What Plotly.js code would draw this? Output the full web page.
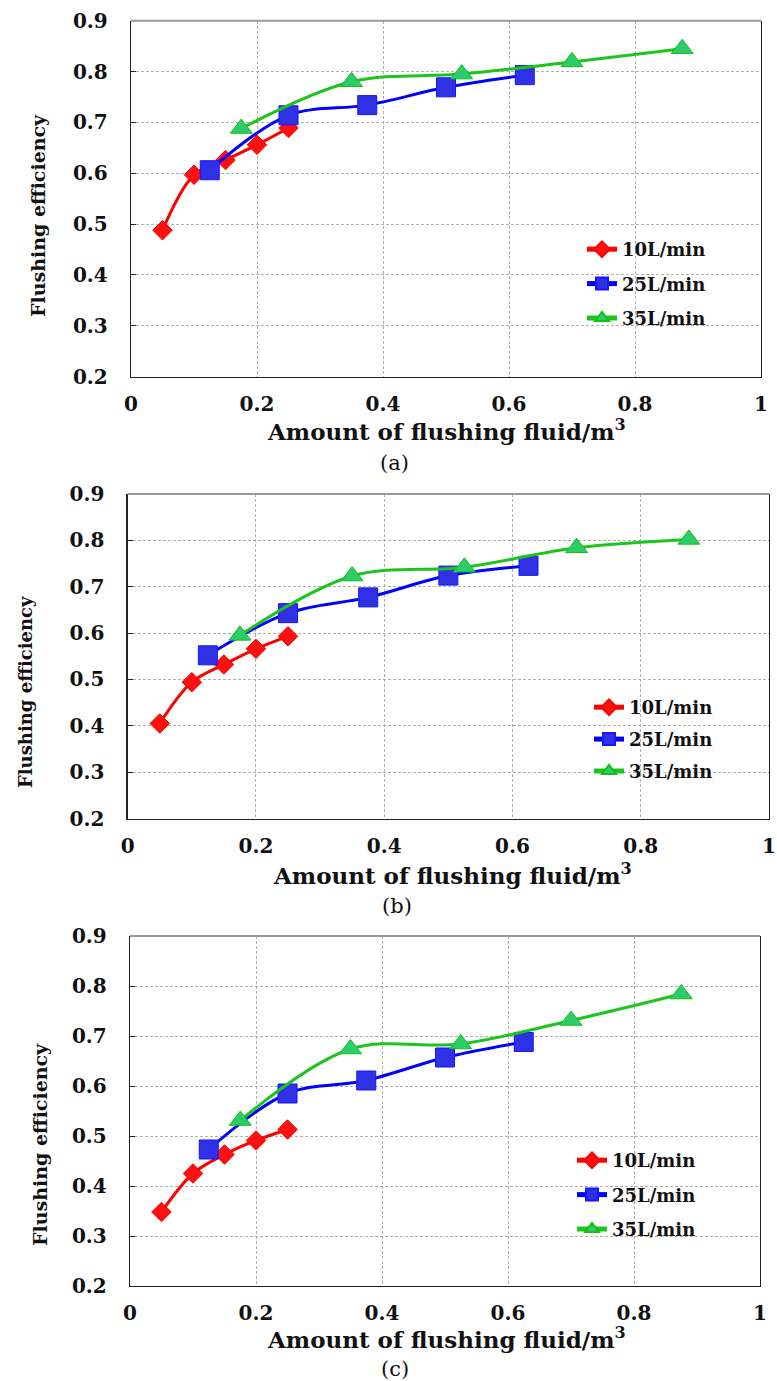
<!DOCTYPE html>
<html>
<head>
<meta charset="utf-8">
<script src="https://cdn.plot.ly/plotly-3.0.1.min.js"></script>
<style>html,body{margin:0;padding:0;background:#fff;}#chart{width:777px;height:1381px;}</style>
</head>
<body>
<div id="chart"></div>
<script>
// ---------- data ----------
const seriesNames = ["10L/min", "25L/min", "35L/min"];
const x10 = [0.05, 0.10, 0.15, 0.20, 0.25];
const x25 = [0.125, 0.25, 0.375, 0.50, 0.625];
const x35 = [0.175, 0.35, 0.525, 0.70, 0.875];

// panel (a)
const a10 = [0.488, 0.597, 0.626, 0.656, 0.689];
const a25 = [0.606, 0.714, 0.734, 0.769, 0.793];
const a35 = [0.688, 0.780, 0.795, 0.819, 0.845];
// panel (b)
const b10 = [0.405, 0.494, 0.532, 0.566, 0.593];
const b25 = [0.552, 0.643, 0.677, 0.724, 0.745];
const b35 = [0.595, 0.723, 0.742, 0.784, 0.802];
// panel (c)
const c10 = [0.348, 0.425, 0.463, 0.491, 0.513];
const c25 = [0.473, 0.585, 0.611, 0.657, 0.688];
const c35 = [0.531, 0.674, 0.684, 0.731, 0.784];

const panelLabels = ["(a)", "(b)", "(c)"];
const xTitle = "<b>Amount of flushing fluid/m<sup>3</sup></b>";
const yTitle = "<b>Flushing efficiency</b>";
const xTickVals = [0, 0.2, 0.4, 0.6, 0.8, 1];
const xTickText = ["<b>0</b>", "<b>0.2</b>", "<b>0.4</b>", "<b>0.6</b>", "<b>0.8</b>", "<b>1</b>"];
const yTickVals = [0.2, 0.3, 0.4, 0.5, 0.6, 0.7, 0.8, 0.9];
const yTickText = ["<b>0.2</b>", "<b>0.3</b>", "<b>0.4</b>", "<b>0.5</b>", "<b>0.6</b>", "<b>0.7</b>", "<b>0.8</b>", "<b>0.9</b>"];

// ---------- layout helpers ----------
const W = 777, H = 1381;
const px = v => v / W;
const py = v => 1 - v / H;
const SERIF = "DejaVu Serif";

const panels = [
  {ys: [a10, a25, a35], box: [131, 761, 20.7, 376.7], leg: [582, 231], gap: 8, ytl: [38, 216, 19], xtl: [447, 430], lab: [395, 463]},
  {ys: [b10, b25, b35], box: [127.7, 769, 494, 818.5], leg: [589, 689], gap: 5.5, ytl: [25, 692, 18], xtl: [452, 874], lab: [397, 906]},
  {ys: [c10, c25, c35], box: [130, 760, 936, 1286], leg: [572, 1142], gap: 8, ytl: [40, 1145, 19], xtl: [446, 1338], lab: [395, 1369]}
];

const styles = [
  {line: "#ff0000", symbol: "diamond", size: 15, fill: "#ff1010", edge: "#ff0000"},
  {line: "#0000ff", symbol: "square", size: 19, fill: "#3030e4", edge: "#1515ff"},
  {line: "#1ec41e", symbol: "triangle-up", size: 19, fill: "#2ccc6a", edge: "#14c014"}
];
const xs = [x10, x25, x35];

const traces = [];
const layout = {
  width: W, height: H, autosize: false,
  margin: {l: 0, r: 0, t: 0, b: 0},
  paper_bgcolor: "#ffffff", plot_bgcolor: "#ffffff",
  showlegend: true,
  font: {family: SERIF, color: "#111"},
  annotations: [], shapes: []
};

panels.forEach((p, i) => {
  const n = i === 0 ? "" : String(i + 1);
  const xa = "x" + n, ya = "y" + n;
  const legName = "legend" + n;
  p.ys.forEach((yv, k) => {
    const s = styles[k];
    traces.push({
      x: xs[k], y: yv, xaxis: xa, yaxis: ya,
      type: "scatter", mode: "lines+markers",
      name: "<b>" + seriesNames[k] + "</b>",
      legend: legName,
      legendgroup: "p" + i + "s" + k,
      line: {color: s.line, width: 3, shape: "spline", smoothing: 1},
      marker: {symbol: s.symbol, size: s.size, color: s.fill, line: {color: s.edge, width: 1}}
    });
  });
  const [l, r, t, b] = p.box;
  const axFont = {family: SERIF, size: 20, color: "#111"};
  layout["xaxis" + n] = {
    domain: [px(l), px(r)], anchor: ya, range: [0, 1],
    tickvals: xTickVals, ticktext: xTickText, tickfont: axFont,
    ticks: "", ticklabelstandoff: 9, ticklabeloverflow: "allow",
    showgrid: true, gridcolor: "#b0b0b0", griddash: "3px,2px", gridwidth: 1,
    zeroline: false, showline: true, linecolor: "#222", linewidth: 1.3, mirror: false,
    fixedrange: true
  };
  layout["yaxis" + n] = {
    domain: [py(b), py(t)], anchor: xa, range: [0.2, 0.9],
    tickvals: yTickVals, ticktext: yTickText, tickfont: axFont,
    ticks: "inside", ticklen: 5, tickcolor: "#222", ticklabelstandoff: 18, ticklabeloverflow: "allow",
    showgrid: true, gridcolor: "#b0b0b0", griddash: "3px,2px", gridwidth: 1,
    zeroline: false, showline: true, linecolor: "#222", linewidth: 1.3, mirror: true,
    fixedrange: true
  };
  layout.shapes.push({type: "line", xref: "paper", yref: "paper",
    x0: px(l), x1: px(r), y0: py(t), y1: py(t), line: {color: "#999", width: 2}, layer: "above"});
  layout[legName] = {
    x: px(p.leg[0]), y: py(p.leg[1]), xanchor: "left", yanchor: "top",
    bgcolor: "rgba(0,0,0,0)", borderwidth: 0,
    font: {family: SERIF, size: 18, color: "#111"},
    traceorder: "grouped", tracegroupgap: p.gap, itemsizing: "constant", itemwidth: 30
  };
  layout.annotations.push({
    text: yTitle, xref: "paper", yref: "paper", x: px(p.ytl[0]), y: py(p.ytl[1]),
    xanchor: "center", yanchor: "middle", textangle: -90, showarrow: false,
    font: {family: SERIF, size: p.ytl[2], color: "#111"}
  });
  layout.annotations.push({
    text: xTitle, xref: "paper", yref: "paper", x: px(p.xtl[0]), y: py(p.xtl[1]),
    xanchor: "center", yanchor: "middle", showarrow: false,
    font: {family: SERIF, size: 23, color: "#111"}
  });
  layout.annotations.push({
    text: panelLabels[i], xref: "paper", yref: "paper", x: px(p.lab[0]), y: py(p.lab[1]),
    xanchor: "center", yanchor: "middle", showarrow: false,
    font: {family: SERIF, size: 21, color: "#111"}
  });
});

Plotly.newPlot("chart", traces, layout, {staticPlot: true, displayModeBar: false});
</script>
</body>
</html>
